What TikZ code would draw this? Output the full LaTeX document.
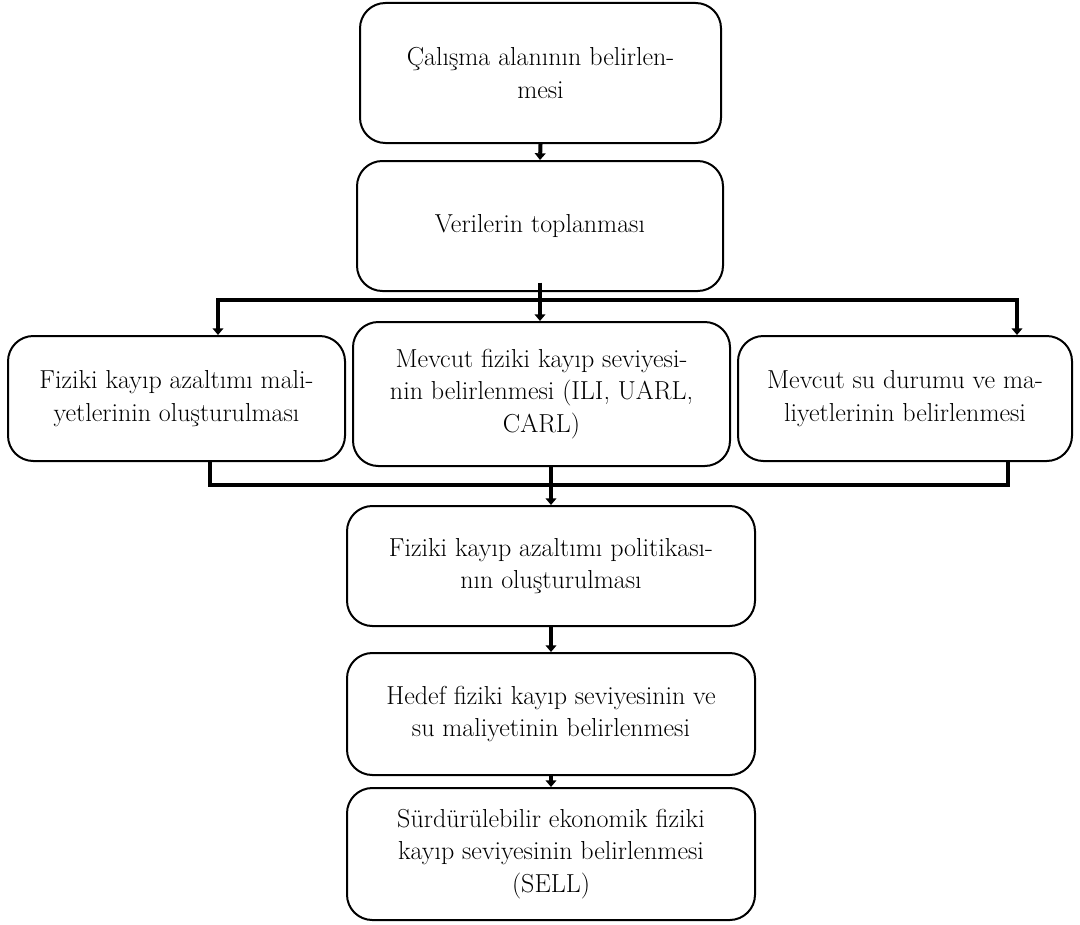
\documentclass[tikz,border=0pt]{standalone}
\usepackage{tikz}
\usepackage{xcolor}
\usetikzlibrary{arrows.meta}

\tikzset{
  stagebox/.style={draw, line width=1.5pt, rounded corners=19pt, inner sep=0pt, align=center,
    font=\fontsize{19.5}{24.5}\selectfont},
  flowarrow/.style={line width=3pt, -{Triangle[width=8pt,length=5pt]}},
  busline/.style={line width=3.6pt},
}

\begin{document}
\begin{tikzpicture}[x=0.75pt,y=0.75pt,yscale=-1,xscale=1]
    \useasboundingbox (0,0) rectangle (1080,924);

    %Rounded Rect [id:b1]
    \node[stagebox, minimum width=270.75pt, minimum height=105pt] (calisma) at (540.5,73) {Çalışma alanının belirlen-\\mesi};
    %Rounded Rect [id:b2]
    \node[stagebox, minimum width=274.5pt, minimum height=97.5pt] (veri) at (540,226) {Verilerin toplanması};
    %Rounded Rect [id:b3a]
    \node[stagebox, minimum width=252.75pt, minimum height=93.75pt] (maliyet) at (176.5,398.5) {Fiziki kayıp azaltımı mali-\\yetlerinin oluşturulması};
    %Rounded Rect [id:b3b]
    \node[stagebox, minimum width=282.75pt, minimum height=108pt] (mevcut) at (541.5,394) {Mevcut fiziki kayıp seviyesi-\\nin belirlenmesi (ILI, UARL,\\CARL)};
    %Rounded Rect [id:b3c]
    \node[stagebox, minimum width=250.5pt, minimum height=93.75pt] (sudurumu) at (905,398.5) {Mevcut su durumu ve ma-\\liyetlerinin belirlenmesi};
    %Rounded Rect [id:b4]
    \node[stagebox, minimum width=306pt, minimum height=90pt] (politika) at (551,566) {Fiziki kayıp azaltımı politikası-\\nın oluşturulması};
    %Rounded Rect [id:b5]
    \node[stagebox, minimum width=306pt, minimum height=91.5pt] (hedef) at (551,714) {Hedef fiziki kayıp seviyesinin ve\\su maliyetinin belirlenmesi};
    %Rounded Rect [id:b6]
    \node[stagebox, minimum width=306pt, minimum height=99pt] (sell) at (551,854) {Sürdürülebilir ekonomik fiziki\\kayıp seviyesinin belirlenmesi\\(SELL)};

    %Bus coordinates
    \coordinate (ustL) at (218,300);
    \coordinate (ustR) at (1017,300);
    \coordinate (altL) at (210,485);
    \coordinate (altR) at (1008,485);

    %Straight Lines [id:arrow1]
    \draw[flowarrow] (calisma.south) -- (veri.north);
    %Straight Lines [id:upper bus]
    \draw[busline, line cap=rect] (ustL) ++(0,10) -- (ustL) -- (ustR) -- ++(0,10);
    \draw[flowarrow] (ustL) -- (ustL |- maliyet.north);
    \draw[flowarrow] (ustR) -- (ustR |- sudurumu.north);
    \draw[flowarrow] ([yshift=-7pt]veri.south) -- (veri.south |- mevcut.north);
    %Straight Lines [id:lower bus]
    \draw[busline, line cap=rect] (altL |- maliyet.south) -- (altL) -- (altR) -- (altR |- sudurumu.south);
    \draw[flowarrow] (politika.north |- mevcut.south) -- (politika.north);
    %Straight Lines [id:arrow4]
    \draw[flowarrow] (politika.south) -- (hedef.north);
    %Straight Lines [id:arrow5]
    \draw[flowarrow] (hedef.south) -- (sell.north);

\end{tikzpicture}
\end{document}
